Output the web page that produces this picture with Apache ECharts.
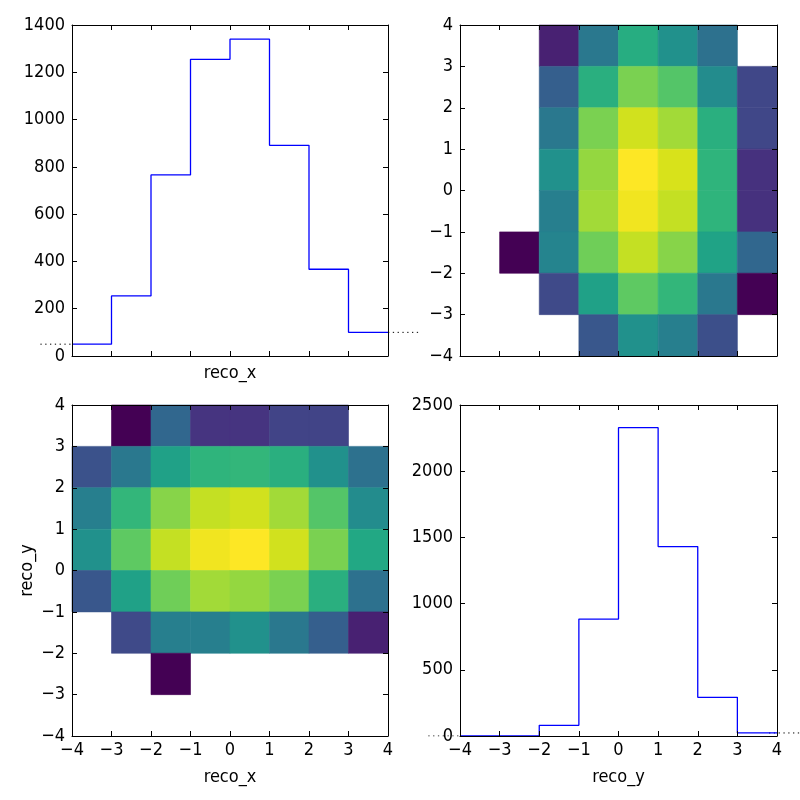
<!DOCTYPE html>
<html><head><meta charset="utf-8">
<script src="https://cdn.jsdelivr.net/npm/echarts@6/dist/echarts.min.js"></script>
<style>html,body{margin:0;padding:0;background:#fff}#c{width:800px;height:800px}</style>
</head><body><div id="c"></div>
<script>
// ---- data ----
const binEdges = [-4, -3, -2, -1, 0, 1, 2, 3, 4];
const recoXCounts = [50, 254, 766, 1255, 1340, 891, 367, 100];
const recoYCounts = [0, 0, 81, 883, 2329, 1431, 292, 23];
const histXTicks = [0, 200, 400, 600, 800, 1000, 1200, 1400];
const histYTicks = [0, 500, 1000, 1500, 2000, 2500];
const posTicks = [-4, -3, -2, -1, 0, 1, 2, 3, 4];
// 2D histograms, rows listed from top (y bin 3..4) to bottom (y bin -4..-3), columns x -4..4
// values relative to colour scale (0 = lowest non-empty, 100 = max); null = empty bin
const topRightRows = [
  [null, null, 9, 40, 62, 50, 37, null],
  [null, null, 30, 63, 80, 73, 48, 21],
  [null, null, 40, 80, 93, 86, 63, 21],
  [null, null, 50, 84, 100, 94, 65, 14],
  [null, null, 43, 86, 98, 91, 65, 14],
  [null, 0, 45, 78, 91, 82, 58, 33],
  [null, null, 22, 57, 75, 66, 40, 0],
  [null, null, null, 27, 50, 43, 24, null]
];
const bottomLeftRows = [
  [null, 0, 33, 15, 15, 20, 20, null],
  [25, 40, 57, 65, 66, 63, 50, 37],
  [43, 66, 82, 91, 93, 86, 73, 48],
  [50, 75, 91, 98, 100, 93, 80, 60],
  [27, 57, 78, 86, 84, 80, 63, 37],
  [null, 22, 43, 43, 50, 40, 30, 9],
  [null, null, 0, null, null, null, null, null],
  [null, null, null, null, null, null, null, null]
];
const viridis = ['#440154','#471365','#482475','#463480','#414487','#3b528b','#355f8d','#2f6c8e','#2a788e','#25848e','#21918c','#1e9c89','#22a884','#2fb47c','#44bf70','#5ec962','#7ad151','#9bd93c','#bddf26','#dfe318','#fde725'];

// ---- helpers ----
const FONT = '"DejaVu Sans Condensed", "DejaVu Sans", sans-serif';
const FS = 18;
const minus = v => String(v).replace('-', '\u2212');
const nb = binEdges.length - 1;
const xLo = binEdges[0], xHi = binEdges[nb];
const ext = 0.8; // dotted overflow extension, in bin units
function cells(rows) {
  const out = [];
  rows.forEach((row, r) => {
    const yi = nb - 1 - r;
    row.forEach((v, c) => {
      if (v !== null) out.push([binEdges[c], binEdges[c + 1], binEdges[yi], binEdges[yi + 1], v]);
    });
  });
  return out;
}
function stepData(counts) {
  return binEdges.map((e, i) => [e, counts[Math.min(i, counts.length - 1)]]);
}
const G = [
  {left: 72, top: 25, width: 316, height: 331},
  {left: 460, top: 25, width: 317, height: 331},
  {left: 72, top: 405, width: 316, height: 331},
  {left: 460, top: 405, width: 317, height: 331}
];
// wider invisible grids for the dotted overflow marks (same scale, extended range)
function wideGrid(g) {
  const unit = g.width / (xHi - xLo);
  return {left: g.left - ext * unit, top: g.top, width: g.width + 2 * ext * unit, height: g.height};
}
const grids = G.concat([wideGrid(G[0]), wideGrid(G[3])]);
const lbl = {color: '#000', fontFamily: FONT, fontSize: FS};
function axisX(g, pos, show, name, gap) {
  return {
    type: 'value', gridIndex: g, position: pos, min: xLo, max: xHi, interval: 1, z: 5,
    axisLine: {show: true, onZero: false, lineStyle: {color: '#000', width: 1}},
    axisTick: {show: true, inside: true, length: 5, lineStyle: {color: '#000'}},
    axisLabel: Object.assign({show: show, margin: 5, formatter: minus}, lbl),
    splitLine: {show: false},
    name: name || '', nameLocation: 'middle', nameGap: gap || 0,
    nameTextStyle: lbl
  };
}
function axisY(g, pos, show, ticks, name) {
  return {
    type: 'value', gridIndex: g, position: pos, min: ticks[0], max: ticks[ticks.length - 1],
    interval: ticks[1] - ticks[0], z: 5,
    axisLine: {show: true, onZero: false, lineStyle: {color: '#000', width: 1}},
    axisTick: {show: true, inside: true, length: 5, lineStyle: {color: '#000'}},
    axisLabel: Object.assign({show: show, margin: 7, formatter: minus}, lbl),
    splitLine: {show: false},
    name: name || '', nameLocation: 'middle', nameGap: 36, nameRotate: 90,
    nameTextStyle: lbl
  };
}
function hiddenX(g) { return {type: 'value', gridIndex: g, show: false, min: xLo - ext, max: xHi + ext}; }
function hiddenY(g, ticks) { return {type: 'value', gridIndex: g, show: false, min: ticks[0], max: ticks[ticks.length - 1]}; }
const xAxis = [
  axisX(0, 'bottom', false, 'reco_x', 8), axisX(0, 'top', false),
  axisX(1, 'bottom', false), axisX(1, 'top', false),
  axisX(2, 'bottom', true, 'reco_x', 32), axisX(2, 'top', false),
  axisX(3, 'bottom', true, 'reco_y', 32), axisX(3, 'top', false),
  hiddenX(4), hiddenX(5)
];
const yAxis = [
  axisY(0, 'left', true, histXTicks), axisY(0, 'right', false, histXTicks),
  axisY(1, 'left', true, posTicks), axisY(1, 'right', false, posTicks),
  axisY(2, 'left', true, posTicks, 'reco_y'), axisY(2, 'right', false, posTicks),
  axisY(3, 'left', true, histYTicks), axisY(3, 'right', false, histYTicks),
  hiddenY(4, histXTicks), hiddenY(5, histYTicks)
];
function renderCell(params, api) {
  const p0 = api.coord([api.value(0), api.value(3)]);
  const p1 = api.coord([api.value(1), api.value(2)]);
  const col = api.visual('color');
  return {type: 'rect', shape: {x: p0[0], y: p0[1], width: p1[0] - p0[0], height: p1[1] - p0[1]},
    style: {fill: col, stroke: col, lineWidth: 0.6}};
}
const blue = {color: '#0000ff', width: 1.3};
const dots = {color: '#000', width: 1, type: [1.3, 3.5]};
function stepSeries(ax, counts) {
  return {type: 'line', xAxisIndex: ax, yAxisIndex: ax, step: 'end', data: stepData(counts),
    symbol: 'none', lineStyle: blue, itemStyle: {color: '#0000ff'}, animation: false};
}
function dotSeries(ax, pts) {
  return {type: 'line', xAxisIndex: ax, yAxisIndex: ax, data: pts,
    symbol: 'none', lineStyle: dots, itemStyle: {color: '#000'}, animation: false, z: 1};
}
const series = [
  stepSeries(0, recoXCounts),
  dotSeries(8, [[xLo - ext, recoXCounts[0]], [xLo, recoXCounts[0]]]),
  dotSeries(8, [[xHi, recoXCounts[nb - 1]], [xHi + ext, recoXCounts[nb - 1]]]),
  {type: 'custom', xAxisIndex: 2, yAxisIndex: 2, data: cells(topRightRows), renderItem: renderCell,
    encode: {x: [0, 1], y: [2, 3]}, animation: false},
  {type: 'custom', xAxisIndex: 4, yAxisIndex: 4, data: cells(bottomLeftRows), renderItem: renderCell,
    encode: {x: [0, 1], y: [2, 3]}, animation: false},
  stepSeries(6, recoYCounts),
  dotSeries(9, [[xLo - ext, recoYCounts[0]], [xLo, recoYCounts[0]]]),
  dotSeries(9, [[xHi, recoYCounts[nb - 1]], [xHi + ext, recoYCounts[nb - 1]]])
];
const chart = echarts.init(document.getElementById('c'), null, {renderer: 'canvas'});
chart.setOption({
  backgroundColor: '#fff',
  animation: false,
  grid: grids,
  xAxis: xAxis,
  yAxis: yAxis,
  visualMap: [
    {type: 'continuous', show: false, seriesIndex: 3, dimension: 4, min: 0, max: 100, inRange: {color: viridis}},
    {type: 'continuous', show: false, seriesIndex: 4, dimension: 4, min: 0, max: 100, inRange: {color: viridis}}
  ],
  series: series
});
</script></body></html>
